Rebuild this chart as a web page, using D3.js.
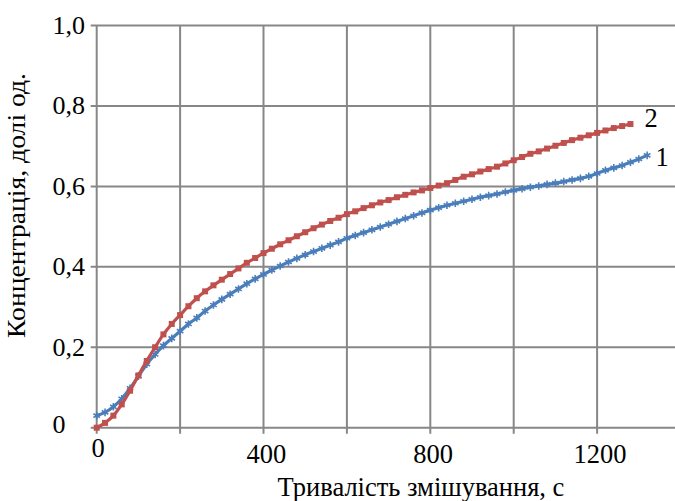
<!DOCTYPE html>
<html>
<head>
<meta charset="utf-8">
<script src="https://cdn.jsdelivr.net/npm/d3@7"></script>
<style>
  body { margin: 0; background: #fff; }
  svg { display: block; }
</style>
</head>
<body>
<div id="chart"></div>
<script>
// Chart data (time in s, concentration in fractions)
var timeRed = [0, 20, 40, 60, 80, 100, 120, 140, 160, 180, 200, 220, 240, 260, 280, 300, 320, 340, 360, 380,
  400, 420, 440, 460, 480, 500, 520, 540, 560, 580, 600, 620, 640, 660, 680, 700, 720, 740, 760, 780,
  800, 820, 840, 860, 880, 900, 920, 940, 960, 980, 1000, 1020, 1040, 1060, 1080, 1100, 1120, 1140, 1160, 1180,
  1200, 1220, 1240, 1260, 1280];
var series2 = [0.000, 0.012, 0.030, 0.058, 0.092, 0.130, 0.166, 0.200, 0.232, 0.258, 0.280, 0.302, 0.322, 0.339, 0.354, 0.368, 0.382, 0.396, 0.410, 0.422,
  0.434, 0.445, 0.456, 0.466, 0.476, 0.486, 0.496, 0.505, 0.514, 0.522, 0.531, 0.538, 0.546, 0.553, 0.560, 0.566, 0.573, 0.579, 0.585, 0.590,
  0.596, 0.602, 0.608, 0.616, 0.624, 0.630, 0.637, 0.643, 0.649, 0.657, 0.665, 0.673, 0.681, 0.687, 0.694, 0.701, 0.708, 0.715, 0.721, 0.727,
  0.733, 0.739, 0.745, 0.750, 0.755];

var timeBlue = [0, 20, 40, 60, 80, 100, 120, 140, 160, 180, 200, 220, 240, 260, 280, 300, 320, 340, 360, 380,
  400, 420, 440, 460, 480, 500, 520, 540, 560, 580, 600, 620, 640, 660, 680, 700, 720, 740, 760, 780,
  800, 820, 840, 860, 880, 900, 920, 940, 960, 980, 1000, 1020, 1040, 1060, 1080, 1100, 1120, 1140, 1160, 1180,
  1200, 1220, 1240, 1260, 1280, 1300, 1320];
var series1 = [0.030, 0.038, 0.052, 0.072, 0.098, 0.128, 0.158, 0.182, 0.204, 0.222, 0.240, 0.258, 0.273, 0.290, 0.305, 0.319, 0.332, 0.345, 0.358, 0.370,
  0.381, 0.392, 0.402, 0.412, 0.421, 0.430, 0.438, 0.446, 0.454, 0.462, 0.471, 0.478, 0.485, 0.492, 0.499, 0.506, 0.513, 0.520, 0.527, 0.534,
  0.541, 0.547, 0.553, 0.558, 0.563, 0.568, 0.573, 0.577, 0.581, 0.586, 0.590, 0.594, 0.598, 0.601, 0.605, 0.608, 0.612, 0.616, 0.620, 0.625,
  0.632, 0.640, 0.646, 0.652, 0.660, 0.668, 0.677];

// Axis ticks
var xGridTicks = [0, 200, 400, 600, 800, 1000, 1200, 1400];
var xLabelTicks = [0, 400, 800, 1200];
var yTicks = [0, 0.2, 0.4, 0.6, 0.8, 1.0];
var yTickLabels = ["0", "0,2", "0,4", "0,6", "0,8", "1,0"];

var xTitle = "Тривалість змішування, с";
var yTitle = "Концентрація, долі од.";

var font = "Liberation Serif";

// Set the svg size
var svgWidth = 675;
var svgHeight = 501;

var svg = d3.select("#chart")
  .append("svg")
  .attr("width", svgWidth)
  .attr("height", svgHeight);

// Scales (plot runs past the right edge of the picture)
var xScale = d3.scaleLinear().domain([0, 1400]).range([96.7, 680.5]);
var yScale = d3.scaleLinear().domain([0, 1]).range([427.7, 25.5]);

var gridColor = "#878787";

// Gridlines
svg.append("g").selectAll("line")
  .data(xGridTicks)
  .enter()
  .append("line")
  .attr("x1", d => xScale(d))
  .attr("x2", d => xScale(d))
  .attr("y1", yScale(1))
  .attr("y2", yScale(0) + 6)
  .attr("stroke", gridColor)
  .attr("stroke-width", 2);

svg.append("g").selectAll("line")
  .data(yTicks)
  .enter()
  .append("line")
  .attr("x1", xScale(0) - 6)
  .attr("x2", xScale(1400))
  .attr("y1", d => yScale(d))
  .attr("y2", d => yScale(d))
  .attr("stroke", gridColor)
  .attr("stroke-width", 2);

// Y tick labels, left aligned
svg.append("g").selectAll("text")
  .data(yTicks)
  .enter()
  .append("text")
  .attr("x", 52.5)
  .attr("y", d => yScale(d) + (d === 0 ? 5.5 : 8.5))
  .attr("font-family", font)
  .attr("font-size", "26px")
  .text((d, i) => yTickLabels[i]);

// X tick labels
svg.append("g").selectAll("text")
  .data(xLabelTicks)
  .enter()
  .append("text")
  .attr("x", d => xScale(d) + (d === 0 ? 1.3 : 2.8))
  .attr("y", d => d === 0 ? 457 : 463)
  .attr("text-anchor", "middle")
  .attr("font-family", font)
  .attr("font-size", "26.5px")
  .text(d => d);

// Lines
var redColor = "#c0504d";
var blueColor = "#4a7ebb";

var line = d3.line()
  .x(d => xScale(d[0]))
  .y(d => yScale(d[1]))
  .curve(d3.curveMonotoneX);

var redData = timeRed.map((t, i) => [t, series2[i]]);
var blueData = timeBlue.map((t, i) => [t, series1[i]]);

svg.append("path")
  .datum(blueData)
  .attr("d", line)
  .attr("fill", "none")
  .attr("stroke", blueColor)
  .attr("stroke-width", 3.2);

svg.append("g").selectAll("path")
  .data(blueData)
  .enter()
  .append("path")
  .attr("transform", d => `translate(${xScale(d[0])},${yScale(d[1])})`)
  .attr("d", d3.symbol().type(d3.symbolAsterisk).size(40))
  .attr("fill", "none")
  .attr("stroke", blueColor)
  .attr("stroke-width", 1.6);

svg.append("path")
  .datum(redData)
  .attr("d", line)
  .attr("fill", "none")
  .attr("stroke", redColor)
  .attr("stroke-width", 3.2);

svg.append("g").selectAll("rect")
  .data(redData)
  .enter()
  .append("rect")
  .attr("x", d => xScale(d[0]) - 3)
  .attr("y", d => yScale(d[1]) - 3)
  .attr("width", 6)
  .attr("height", 6)
  .attr("fill", redColor);

// Series labels
svg.append("text")
  .attr("x", 651)
  .attr("y", 127)
  .attr("text-anchor", "middle")
  .attr("font-family", font)
  .attr("font-size", "26.5px")
  .text("2");

svg.append("text")
  .attr("x", 662)
  .attr("y", 165.5)
  .attr("text-anchor", "middle")
  .attr("font-family", font)
  .attr("font-size", "26.5px")
  .text("1");

// Axis titles
svg.append("text")
  .attr("x", 421)
  .attr("y", 496)
  .attr("text-anchor", "middle")
  .attr("font-family", font)
  .attr("font-size", "26.5px")
  .text(xTitle);

svg.append("text")
  .attr("transform", "translate(25, 205.5) rotate(-90)")
  .attr("text-anchor", "middle")
  .attr("font-family", font)
  .attr("font-size", "25px")
  .attr("textLength", 265)
  .attr("lengthAdjust", "spacingAndGlyphs")
  .text(yTitle);
</script>
</body>
</html>
